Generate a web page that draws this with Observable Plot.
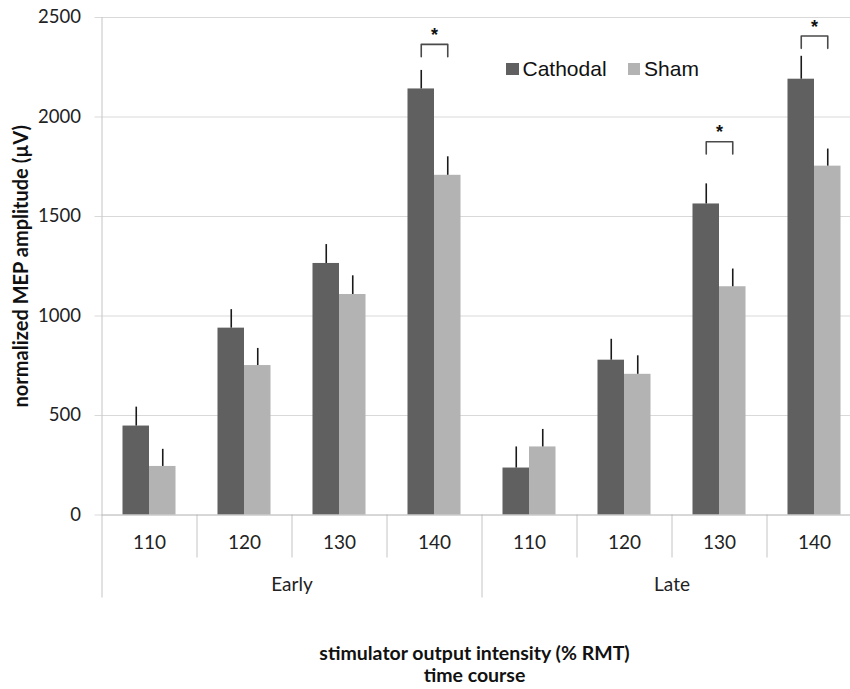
<!DOCTYPE html>
<html><head><meta charset="utf-8">
<script src="https://cdn.jsdelivr.net/npm/d3@7"></script>
<script src="https://cdn.jsdelivr.net/npm/@observablehq/plot@0.6"></script>
<style>
html,body{margin:0;padding:0;background:#fff;overflow:hidden;}
#wrap{position:relative;width:850px;height:689px;overflow:hidden;}
#legend{position:absolute;left:506px;top:57px;height:24px;display:flex;align-items:center;font-family:"Liberation Sans",Arial,sans-serif;font-size:21px;color:#111;}
#legend .sw{display:inline-block;width:12.5px;height:12.5px;margin-right:4px;}
#legend .item{display:flex;align-items:center;margin-right:21px;}
</style></head><body><div id="wrap"><div id="chart"></div><div id="legend"></div></div>
<script>
const groups = ["Early", "Late"];
const intensities = [110, 120, 130, 140];
const series = ["Cathodal", "Sham"];
const cathodalEarly = [447, 939, 1264, 2141];
const shamEarly = [244, 751, 1108, 1707];
const cathodalLate = [236, 778, 1563, 2190];
const shamLate = [342, 707, 1147, 1753];
const cathodalEarlyErr = [95, 93, 95, 93];
const shamEarlyErr = [86, 86, 94, 93];
const cathodalLateErr = [106, 105, 101, 115];
const shamLateErr = [88, 93, 89, 86];
const yTicks = [0, 500, 1000, 1500, 2000, 2500];
const sigGroups = ["Early", "Late", "Late"];
const sigIntensities = [140, 130, 140];
const sigLevels = [2365, 1876, 2407];
const colors = ["#606060", "#b3b3b3"];
const yTitle = "normalized MEP amplitude (µV)";
const xTitle1 = "stimulator output intensity (% RMT)";
const xTitle2 = "time course";

const values = {Early: {Cathodal: cathodalEarly, Sham: shamEarly}, Late: {Cathodal: cathodalLate, Sham: shamLate}};
const errs = {Early: {Cathodal: cathodalEarlyErr, Sham: shamEarlyErr}, Late: {Cathodal: cathodalLateErr, Sham: shamLateErr}};

const BW = 0.279; // bar width as fraction of a category
const cats = [];
const rows = [];
groups.forEach((g, gi) => intensities.forEach((it, ii) => {
  const idx = gi * 4 + ii;
  cats.push({group: g, intensity: it, idx});
  series.forEach((s, si) => {
    rows.push({group: g, intensity: it, series: s, idx, si,
      value: values[g][s][ii], err: errs[g][s][ii]});
  });
}));
const barLeft = d => d.idx + 0.5 - BW + d.si * BW;
const barCenter = d => barLeft(d) + BW / 2;

const sig = sigGroups.map((g, i) => ({group: g, intensity: sigIntensities[i], level: sigLevels[i],
  idx: groups.indexOf(g) * 4 + intensities.indexOf(sigIntensities[i])}));
const LEG = 62;
const bracketPts = [];
sig.forEach((s, k) => {
  const xa = s.idx + 0.5 - BW / 2, xb = s.idx + 0.5 + BW / 2;
  bracketPts.push({k, x: xa, y: s.level - LEG}, {k, x: xa, y: s.level}, {k, x: xb, y: s.level}, {k, x: xb, y: s.level - LEG});
});

const FONT = "Lato, 'Open Sans', sans-serif";
const plot = Plot.plot({
  width: 850,
  height: 689,
  marginTop: 17,
  marginBottom: 174.5,
  marginLeft: 101.5,
  marginRight: -11.5,
  style: "font-family: Lato, sans-serif; background: white; overflow: hidden;",
  x: {type: "linear", domain: [0, 8]},
  y: {domain: [0, 2500]},
  color: {domain: series, range: colors},
  marks: [
    Plot.gridY(yTicks.slice(1), {stroke: "#d9d9d9", strokeOpacity: 1}),
    Plot.axisY(yTicks, {tickSize: 7, tickPadding: 14, stroke: "#d9d9d9", fill: "#222", fontSize: 18.5, fontFamily: FONT, tickFormat: d => String(d), label: null}),
    Plot.axisX([1, 2, 3, 5, 6, 7], {tickSize: 43, stroke: "#c4c4c4", tickFormat: () => "", label: null}),
    Plot.axisX([0, 4, 8], {tickSize: 83, stroke: "#c4c4c4", tickFormat: () => "", label: null}),
    Plot.ruleX([0], {stroke: "#c4c4c4"}),
    Plot.rect(rows, {x1: barLeft, x2: d => barLeft(d) + BW, y1: () => 0, y2: "value", fill: "series"}),
    Plot.ruleY([0], {stroke: "#b0b0b0"}),
    Plot.ruleX(rows, {x: barCenter, y1: "value", y2: d => d.value + d.err, stroke: "#1a1a1a", strokeWidth: 1.6}),
    Plot.line(bracketPts, {x: "x", y: "y", z: "k", stroke: "#4a4a4a", strokeWidth: 1.6}),
    Plot.text(sig, {x: d => d.idx + 0.5, y: "level", text: () => "*", dy: -9, fontSize: 18, fontWeight: "bold", fill: "#111", fontFamily: "'Liberation Sans', sans-serif"}),
    Plot.text(cats, {x: d => d.idx + 0.5, text: d => String(d.intensity), frameAnchor: "bottom", lineAnchor: "middle", textAnchor: "middle", dy: 27.5, fontSize: 19, fill: "#222", fontFamily: FONT}),
    Plot.text(groups, {x: (d, i) => i * 4 + 2, text: d => d, frameAnchor: "bottom", lineAnchor: "middle", textAnchor: "middle", dy: 69.5, fontSize: 19, fill: "#222", fontFamily: FONT}),
    Plot.text([xTitle1], {text: d => d, frameAnchor: "bottom", lineAnchor: "middle", textAnchor: "middle", dx: -7.5, dy: 139, fontSize: 19.5, fontWeight: "bold", fill: "#111", fontFamily: FONT}),
    Plot.text([xTitle2], {text: d => d, frameAnchor: "bottom", lineAnchor: "middle", textAnchor: "middle", dx: -7.5, dy: 161, fontSize: 19.5, fontWeight: "bold", fill: "#111", fontFamily: FONT}),
    Plot.text([yTitle], {text: d => d, frameAnchor: "left", lineAnchor: "middle", textAnchor: "middle", rotate: -90, dx: -80, fontSize: 20, fontWeight: "bold", fill: "#111", fontFamily: FONT})
  ]
});
document.getElementById("chart").appendChild(plot);

const legend = document.getElementById("legend");
series.forEach((s, i) => {
  const item = document.createElement("div");
  item.className = "item";
  const sw = document.createElement("span");
  sw.className = "sw";
  sw.style.background = colors[i];
  item.appendChild(sw);
  item.appendChild(document.createTextNode(s));
  legend.appendChild(item);
});
</script>
</body></html>
